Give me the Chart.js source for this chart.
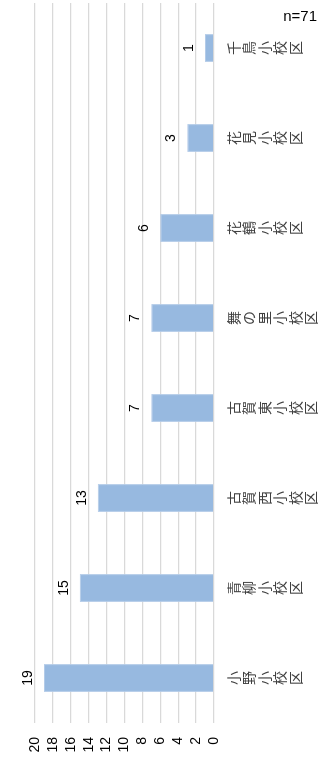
<!DOCTYPE html>
<html>
<head>
<meta charset="utf-8">
<script src="https://cdn.jsdelivr.net/npm/chart.js@4"></script>
<style>
  html, body { margin: 0; padding: 0; background: #fff; }
  body { width: 322px; height: 765px; position: relative; overflow: hidden; }
  #rotator {
    position: absolute; left: 0; top: 0;
    width: 765px; height: 322px;
    transform-origin: 0 0;
    transform: translate(0, 765px) rotate(-90deg);
  }
  #sampleSize {
    position: absolute; right: 5px; top: 7px;
    font: 15px "Liberation Sans", sans-serif; color: #000;
  }
</style>
</head>
<body>
<div id="rotator"><canvas id="schoolChart" width="765" height="322"></canvas></div>
<div id="sampleSize">n=71</div>
<script>
const schoolNames = ["小野小校区", "青柳小校区", "古賀西小校区", "古賀東小校区", "舞の里小校区", "花鶴小校区", "花見小校区", "千鳥小校区"];
const answerCounts = [19, 15, 13, 7, 7, 6, 3, 1];
const valueTicks = [0, 2, 4, 6, 8, 10, 12, 14, 16, 18, 20];

// tategaki labels: one character per line
const stackedLabels = schoolNames.map(name => Array.from(name));

const valueLabelPlugin = {
  id: "valueLabels",
  afterDatasetsDraw(chart) {
    const ctx = chart.ctx;
    const meta = chart.getDatasetMeta(0);
    ctx.save();
    ctx.font = "14px 'Liberation Sans', sans-serif";
    ctx.fillStyle = "#000";
    ctx.textAlign = "center";
    ctx.textBaseline = "bottom";
    meta.data.forEach((bar, i) => {
      ctx.fillText(answerCounts[i], bar.x, bar.y - 9);
    });
    ctx.restore();
  }
};

new Chart(document.getElementById("schoolChart"), {
  type: "bar",
  data: {
    labels: stackedLabels,
    datasets: [{
      data: answerCounts,
      backgroundColor: "#97b9e0",
      borderColor: "#b3cbe8",
      borderWidth: 1,
      categoryPercentage: 1,
      barPercentage: 0.31
    }]
  },
  options: {
    responsive: false,
    animation: false,
    layout: { padding: { top: 35, right: 3, bottom: 0, left: 0 } },
    scales: {
      x: {
        border: { display: false },
        grid: { display: false, drawTicks: false },
        ticks: {
          autoSkip: false,
          maxRotation: 0,
          padding: 12,
          color: "#404040",
          font: { family: "'Noto Sans CJK JP', sans-serif", size: 14, lineHeight: 1.1 }
        },
        afterFit(scale) { scale.height = 108; }
      },
      y: {
        min: 0,
        max: 20,
        border: { display: false },
        grid: { color: "#d9d9d9", lineWidth: 1.3, drawTicks: false },
        afterBuildTicks(scale) { scale.ticks = valueTicks.map(v => ({ value: v })); },
        ticks: {
          autoSkip: false,
          padding: 14,
          color: "#000",
          font: { family: "'Liberation Sans', sans-serif", size: 14 }
        },
        afterFit(scale) { scale.width = 42; }
      }
    },
    plugins: {
      legend: { display: false },
      tooltip: { enabled: false }
    }
  },
  plugins: [valueLabelPlugin]
});
</script>
</body>
</html>
